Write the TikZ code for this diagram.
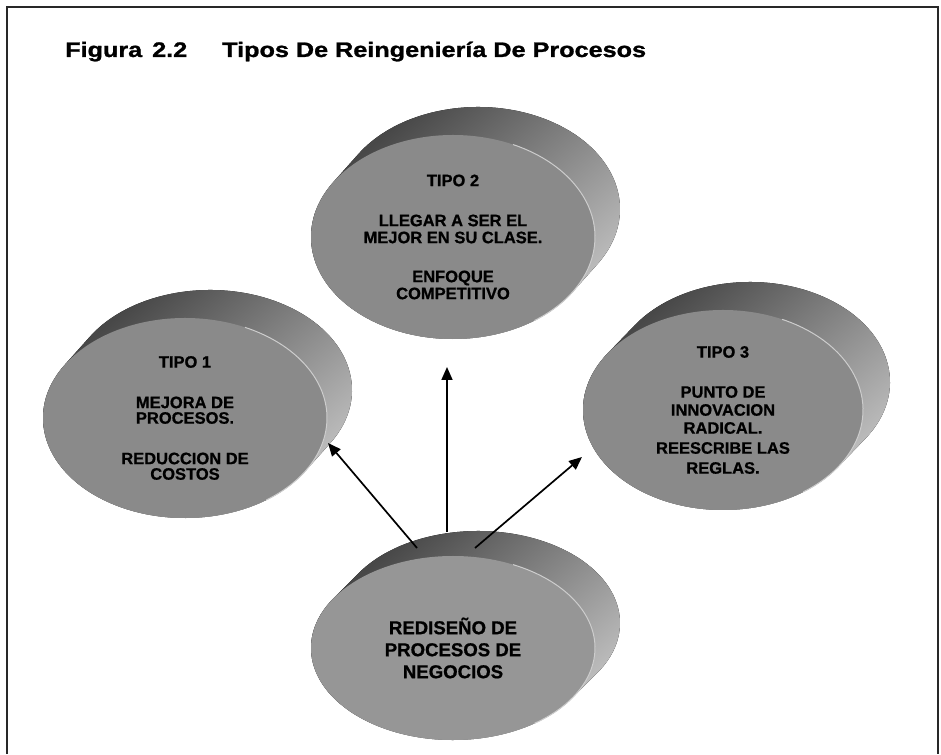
\documentclass[tikz,border=0pt]{standalone}
\usepackage{fontspec}
\setmainfont{Liberation Sans}[BoldFeatures={FakeBold=0.8}]
\newfontfamily\titlefont[FakeStretch=1.2, BoldFeatures={FakeBold=1.2}]{Liberation Sans}
\usetikzlibrary{shapes.geometric,arrows.meta}

\definecolor{facegray}{RGB}{138,138,138}
\definecolor{facelight}{RGB}{150,150,150}
\definecolor{sidedark}{RGB}{72,72,72}
\definecolor{sidemid}{RGB}{125,125,125}
\definecolor{sidelight}{RGB}{188,188,188}
\definecolor{rimlight}{RGB}{205,205,205}
\definecolor{framegray}{RGB}{40,40,40}

% side of a disk: dark towards the upper left, light towards the lower right
\pgfdeclareverticalshading{diskside}{100bp}{color(0bp)=(sidelight); color(30bp)=(sidelight); color(52bp)=(sidemid); color(70bp)=(sidedark); color(100bp)=(sidedark)}

\tikzset{
  sideshade/.style={shading=diskside, shading angle=40},
  face/.style={ellipse, inner sep=0pt, align=center, fill=facegray,
    font=\bfseries\fontsize{16.5}{17}\selectfont},
  rim/.style={draw=rimlight, line width=1pt},
  arr/.style={line width=1.7pt, -{Triangle[length=13pt,width=11pt]}},
  frameline/.style={draw=framegray, line width=2pt},
  titletext/.style={anchor=base west, inner sep=0pt,
    font=\titlefont\bfseries\fontsize{21}{25}\selectfont}
}

% a thick disk: #1 name, #2 cx, #3 cy, #4 rx, #5 ry, #6 dx, #7 dy (depth offset), #8 face options, #9 text
\newcommand\rdisk[9]{%
  \pgfmathsetmacro\rdtang{atan2(-(#5)*(#6),(#4)*(#7))}%
  \fill[sideshade] (#2,#3) ++(\rdtang+180:#4 and #5)
    arc[start angle=\rdtang+180, end angle=\rdtang+360, x radius=#4, y radius=#5]
    -- ++(#6,#7)
    arc[start angle=\rdtang, end angle=\rdtang+180, x radius=#4, y radius=#5]
    -- cycle;
  \node[face, #8, minimum width={2*#4pt}, minimum height={2*#5pt}] (#1) at (#2,#3) {#9};
  \draw[rim] (#1.center) ++(-55:#4 and #5)
    arc[start angle=-55, end angle=65, x radius=#4, y radius=#5];
}

\begin{document}
\begin{tikzpicture}[x=1pt,y=1pt]
\useasboundingbox (0,0) rectangle (941,754);

% open frame
\draw[frameline] (7,0) -- (7,747) -- (938,747) -- (938,0);

% heading
\node[titletext] (fig) at (65,697) {Figura\hspace{3pt} 2.2};
\node[titletext] (ttl) at (222,697) {Tipos De Reingeniería De Procesos};

% the three types
\rdisk{tipo2}{453}{517}{142}{102}{25}{28}{}{TIPO 2\\[23pt]LLEGAR A SER EL\\MEJOR EN SU CLASE.\\[22pt]ENFOQUE\\COMPETITIVO}
\rdisk{tipo1}{185}{336}{142}{100}{25}{28}{font=\bfseries\fontsize{16.5}{15.5}\selectfont}{TIPO 1\\[25pt]MEJORA DE\\PROCESOS.\\[25pt]REDUCCION DE\\COSTOS}
\rdisk{tipo3}{723}{344}{140}{100}{27}{28}{font=\bfseries\fontsize{16.5}{18}\selectfont}{TIPO 3\\[22pt]PUNTO DE\\INNOVACION\\RADICAL.\\[2pt]REESCRIBE LAS\\[2pt]REGLAS.}

% business process redesign
\rdisk{rd}{453}{106}{142}{92}{25}{25}{fill=facelight, font=\bfseries\fontsize{18.6}{22}\selectfont}{REDISEÑO DE\\PROCESOS DE\\NEGOCIOS}

% arrow ends
\coordinate (s1) at (417,206);
\coordinate (e1) at (328,311);
\coordinate (s2) at (447,222);
\coordinate (e2) at (447,387);
\coordinate (s3) at (475,206);
\coordinate (e3) at (582,297);

\draw[arr] (s1) -- (e1);
\draw[arr] (s2) -- (e2);
\draw[arr] (s3) -- (e3);
\end{tikzpicture}
\end{document}
